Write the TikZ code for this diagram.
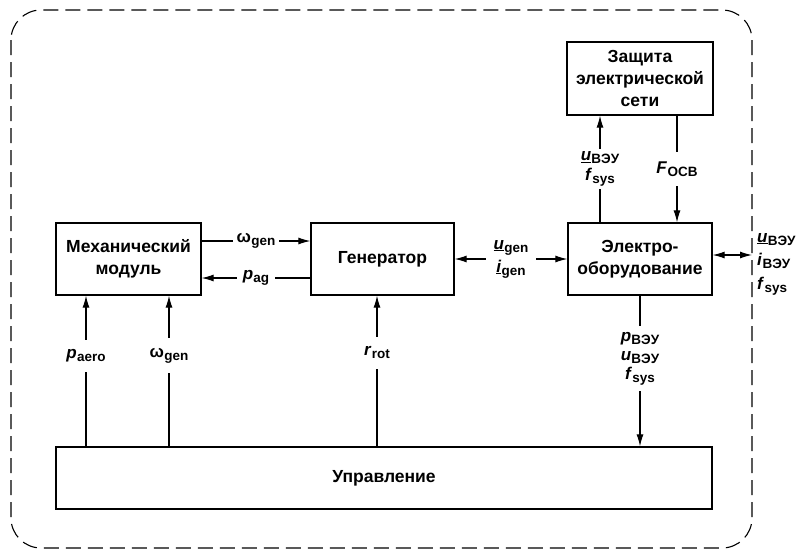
\documentclass[tikz,border=0pt]{standalone}
\usepackage{fontspec}
\setmainfont{Liberation Sans}
\usetikzlibrary{arrows.meta}
\newcommand\sym[2]{#1\kern0.3pt\raisebox{-3pt}{\fontsize{13.5}{13.5}\selectfont #2}}
\newcommand\ul[1]{\underline{#1}}
\begin{document}
\begin{tikzpicture}[x=1pt,y=-1pt,
  blk/.style={draw, line width=1.3pt, font=\fontsize{17.5}{22}\selectfont\bfseries, align=center, inner sep=0pt},
  lab/.style={fill=white, inner sep=3pt, font=\fontsize{17}{20}\selectfont\bfseries, align=center},
  arr/.style={line width=1.1pt, -{Latex[length=12pt,width=7pt]}},
  arrb/.style={line width=1.1pt, {Latex[length=12pt,width=7pt]}-{Latex[length=12pt,width=7pt]}},
  frame/.style={line width=1.1pt, dash pattern=on 15pt off 7pt, rounded corners=30pt}]
\useasboundingbox (0,0) rectangle (804,552);
\draw[frame] (11,10) rectangle (752,548);
\node[blk, minimum width=145pt, minimum height=72pt] (mech) at (128.5,259) {Механический\\модуль};
\node[blk, minimum width=143pt, minimum height=72pt] (gen) at (382.5,259) {Генератор};
\node[blk, minimum width=144pt, minimum height=72pt] (elec) at (640,259) {Электро-\\оборудование};
\node[blk, minimum width=146pt, minimum height=73pt] (prot) at (640,78.5) {Защита\\электрической\\сети};
\node[blk, minimum width=656pt, minimum height=62pt] (ctrl) at (384,478) {Управление};
\coordinate (fr) at (752,255);
% mech <-> gen
\draw[arr] ([yshift=18pt]mech.east) -- node[lab, inner xsep=4pt]{\sym{ω}{gen}} ([yshift=18pt]gen.west);
\draw[arr] ([yshift=-19pt]gen.west) -- node[lab, inner xsep=6pt]{\sym{\textit{p}}{ag}} ([yshift=-19pt]mech.east);
% gen <-> elec
\draw[arrb] (gen.east) -- node[lab, inner xsep=8pt, font=\fontsize{17}{23}\selectfont\bfseries]{\sym{\ul{\textit{u}}}{gen}\\\sym{\ul{\textit{i}}}{gen}} (elec.west);
% elec <-> frame
\draw[arrb] ([yshift=4pt]elec.east) -- (fr);
\node[font=\fontsize{17}{23.5}\selectfont\bfseries, align=left, anchor=west, inner sep=0pt] (rl) at (757,264) {\sym{\ul{\textit{u}}}{ВЭУ}\\\sym{\textit{i}}{ВЭУ}\\\sym{\textit{f}}{sys}};
% elec <-> prot
\draw[arr] ([xshift=-40pt]elec.north) -- node[lab, font=\fontsize{17}{20}\selectfont\bfseries]{\sym{\ul{\textit{u}}}{ВЭУ}\\\sym{\textit{f}}{sys}} ([xshift=-40pt]prot.south);
\draw[arr] ([xshift=37pt]prot.south) -- node[lab, inner ysep=10pt]{\sym{\textit{F}}{ОСВ}} ([xshift=37pt]elec.north);
% elec -> ctrl
\draw[arr] (elec.south) -- node[lab, pos=0.42, inner ysep=6pt, font=\fontsize{17}{19}\selectfont\bfseries]{\sym{\textit{p}}{ВЭУ}\\\sym{\textit{u}}{ВЭУ}\\\sym{\textit{f}}{sys}} (elec.south |- ctrl.north);
% ctrl -> mech, gen
\draw[arr] (86,0 |- ctrl.north) -- node[lab, pos=0.6, inner ysep=10pt]{\sym{\textit{p}}{aero}} (86,0 |- mech.south);
\draw[arr] (169,0 |- ctrl.north) -- node[lab, pos=0.6, inner ysep=10pt]{\sym{ω}{gen}} (169,0 |- mech.south);
\draw[arr] (377,0 |- ctrl.north) -- node[lab, pos=0.62, inner ysep=10pt]{\sym{\textit{r}}{rot}} (377,0 |- gen.south);
\end{tikzpicture}
\end{document}
